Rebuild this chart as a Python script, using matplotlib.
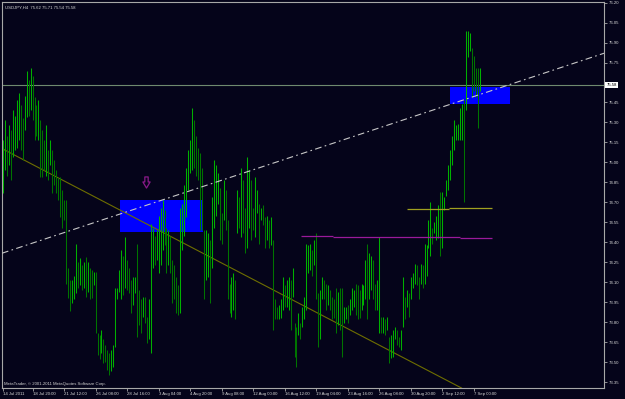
import matplotlib
matplotlib.use("Agg")
import matplotlib.pyplot as plt
import matplotlib.transforms as mtransforms
from matplotlib.patches import Rectangle
from matplotlib.path import Path
import numpy as np

plt.rcParams["font.family"] = ["Liberation Sans", "DejaVu Sans"]

# USDJPY H4 bars, highs and lows
highs = [
    75.17, 75.32, 75.20, 75.28, 75.24, 75.39, 75.35, 75.47, 75.52, 75.43,
    75.33, 75.50, 75.69, 75.62, 75.71, 75.65, 75.49, 75.43, 75.47, 75.32,
    75.24, 75.17, 75.28, 75.09, 75.17, 75.09, 75.02, 74.94, 74.89, 74.89,
    74.79, 74.72, 74.72, 74.21, 74.12, 74.12, 74.15, 74.39, 74.25, 74.28,
    74.23, 74.25, 74.29, 74.25, 74.21, 74.19, 74.18, 74.18, 73.72, 73.70,
    73.74, 73.67, 73.63, 73.59, 73.57, 73.59, 73.63, 74.06, 74.06, 74.19,
    74.34, 74.30, 74.44, 74.27, 74.21, 74.12, 74.14, 74.14, 74.39, 74.04,
    73.97, 73.99, 73.99, 73.84, 73.97, 74.54, 74.51, 74.45, 74.49, 74.60,
    74.66, 74.72, 74.64, 74.51, 74.49, 74.45, 74.27, 74.23, 74.14, 74.08,
    74.66, 74.69, 74.83, 74.96, 75.09, 75.17, 75.41, 75.32, 75.20, 75.11,
    75.07, 74.96, 74.49, 74.49, 74.47, 74.42, 74.74, 75.02, 74.98, 74.92,
    74.81, 74.62, 74.87, 74.79, 74.57, 74.09, 74.14, 74.17, 74.12, 74.79,
    74.74, 74.96, 74.87, 74.66, 75.04, 74.94, 74.87, 74.66, 74.89, 74.79,
    74.69, 74.66, 74.68, 74.59, 74.60, 74.57, 74.59, 74.42, 73.97, 73.91,
    73.93, 73.97, 74.14, 74.08, 74.12, 74.14, 74.12, 74.21, 73.79, 73.76,
    73.87, 73.79, 73.91, 73.99, 74.39, 74.38, 74.39, 74.34, 74.42, 74.47,
    74.02, 74.04, 74.14, 74.12, 74.09, 74.08, 74.04, 73.99, 73.97, 74.06,
    74.03, 74.06, 74.06, 73.91, 73.91, 73.93, 73.97, 74.06, 74.04, 74.09,
    74.08, 74.04, 74.09, 74.08, 74.27, 74.39, 74.32, 74.30, 74.27, 74.09,
    74.12, 74.44, 73.84, 73.84, 73.82, 73.84, 73.69, 73.70, 73.74, 73.76,
    73.74, 73.69, 73.74, 74.14, 73.99, 74.04, 74.02, 74.14, 74.17, 74.24,
    74.23, 74.14, 74.24, 74.23, 74.39, 74.38, 74.57, 74.70, 74.51, 74.55,
    74.60, 74.68, 74.78, 74.78, 74.74, 74.87, 74.98, 75.09, 75.20, 75.32,
    75.28, 75.29, 75.41, 75.44, 75.47, 75.99, 75.99, 75.97, 75.86, 75.80,
    75.71, 75.71, 75.71,
]
lows = [
    74.77, 74.94, 74.90, 74.98, 74.87, 75.04, 75.09, 75.11, 75.17, 75.09,
    75.02, 75.24, 75.34, 75.35, 75.39, 75.32, 75.17, 75.20, 75.17, 74.89,
    74.89, 74.94, 74.90, 74.87, 74.98, 74.77, 74.83, 74.77, 74.72, 74.59,
    74.51, 74.57, 74.09, 73.98, 73.88, 73.94, 73.97, 74.02, 74.06, 74.08,
    74.04, 74.06, 73.99, 74.03, 73.97, 73.98, 74.08, 73.72, 73.55, 73.52,
    73.57, 73.49, 73.50, 73.44, 73.40, 73.43, 73.46, 73.61, 73.97, 74.03,
    73.97, 74.00, 74.06, 74.04, 74.02, 73.87, 73.93, 74.02, 73.69, 73.78,
    73.72, 73.84, 73.79, 73.64, 73.67, 73.57, 74.21, 74.23, 74.27, 74.17,
    74.23, 74.34, 74.38, 74.17, 74.23, 74.17, 73.94, 73.97, 73.87, 73.85,
    73.87, 74.34, 74.45, 74.59, 74.79, 74.92, 74.94, 74.96, 74.90, 74.87,
    74.49, 74.49, 73.97, 74.12, 74.14, 73.94, 74.21, 74.51, 74.60, 74.69,
    74.42, 74.39, 74.57, 74.49, 73.97, 73.87, 73.84, 73.89, 73.82, 74.47,
    74.51, 74.44, 74.47, 74.32, 74.36, 74.51, 74.42, 74.49, 74.44, 74.62,
    74.39, 74.57, 74.53, 74.36, 74.42, 74.36, 74.38, 73.74, 73.82, 73.82,
    73.82, 73.83, 73.89, 73.91, 73.91, 73.89, 73.74, 73.99, 73.54, 73.46,
    73.70, 73.67, 73.76, 73.82, 73.89, 74.17, 74.19, 74.15, 74.23, 73.97,
    73.61, 73.67, 73.97, 73.97, 73.89, 73.93, 73.89, 73.82, 73.83, 73.72,
    73.78, 73.74, 73.54, 73.79, 73.82, 73.79, 73.85, 73.89, 73.91, 73.85,
    73.82, 73.83, 73.89, 73.93, 73.97, 73.82, 73.97, 74.04, 73.97, 73.89,
    73.89, 73.72, 73.72, 73.72, 73.70, 73.74, 73.49, 73.53, 73.54, 73.67,
    73.63, 73.61, 73.59, 73.76, 73.82, 73.91, 73.84, 73.97, 74.06, 74.09,
    74.08, 73.97, 74.09, 74.06, 74.09, 74.15, 74.36, 74.30, 74.39, 74.47,
    74.42, 74.43, 74.30, 74.36, 74.64, 74.75, 74.79, 74.87, 74.98, 75.09,
    75.17, 75.17, 75.17, 75.17, 74.70, 75.39, 75.79, 75.84, 75.49, 75.54,
    75.49, 75.26, 75.54,
]

xtick_pos = [0, 15, 31, 47, 63, 79, 95, 111, 127, 143, 159, 175, 191, 207, 223, 239]
xtick_labels = ["14 Jul 2011", "18 Jul 20:00", "21 Jul 12:00", "26 Jul 08:00",
                "28 Jul 16:00", "3 Aug 04:00", "4 Aug 20:00", "9 Aug 08:00",
                "12 Aug 00:00", "16 Aug 12:00", "19 Aug 04:00", "23 Aug 16:00",
                "26 Aug 08:00", "30 Aug 20:00", "2 Sep 12:00", "7 Sep 00:00"]
price_ticks = [73.35, 73.50, 73.65, 73.80, 73.95, 74.10, 74.25, 74.40, 74.55,
               74.70, 74.85, 75.00, 75.15, 75.30, 75.45, 75.75, 75.90, 76.05, 76.20]

bid = 75.58
header = "USDJPY,H4  75.62 75.71 75.54 75.58"

# chart objects: rectangles (x0, x1, p0, p1), trend lines (x0, p0, x1, p1)
zones = [(59.4, 101.5, 74.48, 74.72), (226.9, 257.4, 75.44, 75.57)]
channel_line = (0, 74.32, 305.1, 75.82)
down_line = (0, 75.10, 232.5, 73.307)
magenta_levels = [(151.3, 167.5, 74.445), (167.5, 232.0, 74.44), (232.0, 248.2, 74.43)]
yellow_levels = [(205.1, 226.4, 74.647), (226.4, 248.2, 74.655)]
arrow_at = (72.6, 74.85)

bg = "#05041a"
frame = "#a8a8a8"
fs = 3.1

fig = plt.figure(figsize=(6.25, 3.99), dpi=100, facecolor=bg)
ax = fig.add_axes([2 / 625, 11 / 399, 602 / 625, 386 / 399], facecolor=bg)

hi = np.array(highs)
lo = np.array(lows)
x = np.arange(len(hi))
mid = (hi + lo) / 2
up = np.concatenate([[True], mid[1:] >= mid[:-1]])
colors = np.where(up, "#00b000", "#007400")

for x0, x1, p0, p1 in zones:
    ax.add_patch(Rectangle((x0, p0), x1 - x0, p1 - p0, color="#0000ff", lw=0, zorder=1))

ax.vlines(x, lo, hi, colors=colors, lw=0.75, zorder=3)

ax.axline(channel_line[:2], channel_line[2:], color="#c8c8c8", lw=0.8,
          ls=(0, (6, 3, 1.5, 3)), zorder=4)
ax.axline(down_line[:2], down_line[2:], color="#6e6e00", lw=0.8, zorder=2)
for x0, x1, p in magenta_levels:
    ax.hlines(p, x0, x1, color="#9a1a9a", lw=0.9, zorder=4)
for x0, x1, p in yellow_levels:
    ax.hlines(p, x0, x1, color="#a0a020", lw=0.9, zorder=4)
ax.axhline(bid, color="#6f8a6f", lw=0.8, zorder=2)

# hollow down arrow (MT4 sell-arrow object)
arrow = Path([(-0.3, 1), (0.3, 1), (0.3, 0.1), (0.65, 0.1), (0, -1),
              (-0.65, 0.1), (-0.3, 0.1), (-0.3, 1)], closed=True)
ax.plot([arrow_at[0]], [arrow_at[1]], marker=arrow, ms=8, mfc="none",
        mec="#8a1a8a", mew=0.9, zorder=5)

ax.set_xlim(-0.5, 305.1)
ax.set_ylim(73.305, 76.205)

for s in ax.spines.values():
    s.set_color(frame)
    s.set_linewidth(0.8)

ax.yaxis.tick_right()
ax.set_yticks(price_ticks)
ax.set_yticklabels(["%.2f" % p for p in price_ticks])
ax.tick_params(axis="y", direction="out", length=2, width=0.6, color=frame,
               labelcolor="#d8d8d8", labelsize=fs, pad=1.5)
ax.set_xticks(xtick_pos)
ax.set_xticklabels(xtick_labels, ha="left")
ax.tick_params(axis="x", direction="out", length=2, width=0.6, color=frame,
               labelcolor="#d8d8d8", labelsize=fs, pad=1)

trans = mtransforms.blended_transform_factory(ax.transAxes, ax.transData)
ax.text(1.004, bid, "%.2f" % bid, transform=trans, fontsize=fs, color="black",
        ha="left", va="center",
        bbox=dict(boxstyle="square,pad=0.25", fc="white", ec="none"))

ax.text(0.005, 0.992, header, transform=ax.transAxes, fontsize=fs,
        color="#d8d8d8", ha="left", va="top")
ax.text(0.003, 0.006, "MetaTrader, \u00a9 2001-2011 MetaQuotes Software Corp.",
        transform=ax.transAxes, fontsize=fs, color="#d0d0d0", ha="left", va="bottom")

fig.savefig("out.png", dpi=100, facecolor=bg)
